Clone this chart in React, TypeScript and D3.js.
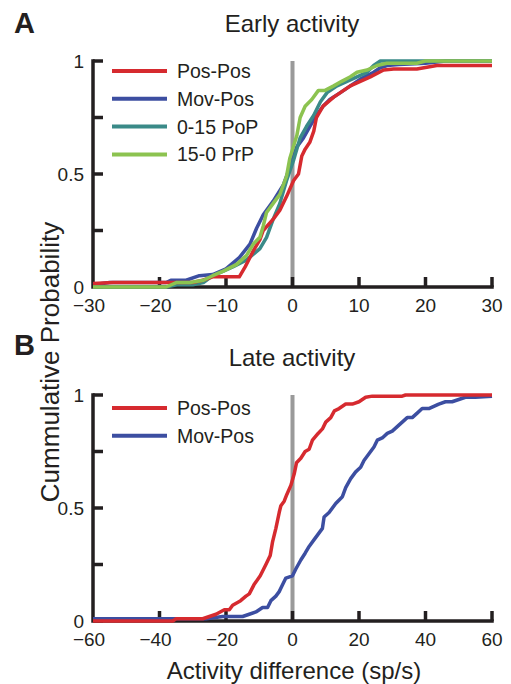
import React from "react";
import * as d3 from "d3";

// cumulative distributions, [activity difference, probability]
const earlyPosPos: [number, number][] = [
  [-30, 0.015], [-27, 0.02], [-15, 0.02], [-13.5, 0.03], [-12, 0.045], [-8, 0.045],
  [-7.1, 0.09], [-5.9, 0.16], [-4.9, 0.21], [-4.4, 0.25], [-2.9, 0.3], [-1.9, 0.34],
  [-0.9, 0.4], [0.15, 0.47], [0.9, 0.5], [1.4, 0.58], [1.9, 0.61], [2.6, 0.64],
  [3.2, 0.69], [3.6, 0.75], [4.6, 0.8], [6.2, 0.84], [7.2, 0.86], [8.7, 0.89],
  [10.2, 0.91], [11.7, 0.93], [13.7, 0.96], [15.2, 0.965], [18.7, 0.965], [21.7, 0.98], [30, 0.98],
];
const earlyMovPos: [number, number][] = [
  [-30, 0.01], [-27.5, 0.02], [-19, 0.02], [-18.3, 0.03], [-16, 0.03], [-14, 0.05],
  [-12, 0.055], [-10, 0.08], [-8, 0.13], [-6.4, 0.19], [-5.4, 0.26], [-4.4, 0.32],
  [-2.9, 0.38], [-1.4, 0.45], [-0.4, 0.53], [0.65, 0.62], [1.65, 0.66], [2.6, 0.71],
  [3.6, 0.76], [4.6, 0.8], [5.6, 0.83], [7.2, 0.86], [8.7, 0.89], [10.2, 0.92],
  [12.2, 0.95], [13.2, 0.97], [14.2, 0.98], [16, 0.985], [20, 0.99], [23, 1.0], [30, 1.0],
];
const earlyPoP: [number, number][] = [
  [-30, 0], [-19, 0], [-17.4, 0.01], [-15, 0.01], [-13.4, 0.02], [-12, 0.05],
  [-10.4, 0.07], [-8.9, 0.09], [-6.9, 0.12], [-4.9, 0.17], [-3.9, 0.22], [-2.9, 0.3],
  [-1.9, 0.37], [-0.9, 0.47], [0.15, 0.56], [1.15, 0.66], [2.1, 0.71], [3.2, 0.76],
  [4.2, 0.82], [5.2, 0.86], [6.7, 0.89], [8.2, 0.91], [9.7, 0.93], [11.2, 0.95],
  [12.2, 0.98], [13.2, 1.0], [30, 1.0],
];
const earlyPrP: [number, number][] = [
  [-30, 0], [-19, 0], [-17.4, 0.02], [-15.4, 0.02], [-13.4, 0.03], [-12, 0.05],
  [-10.4, 0.07], [-8.4, 0.1], [-6.9, 0.14], [-5.9, 0.19], [-4.9, 0.22], [-4.4, 0.27],
  [-3.9, 0.33], [-2.9, 0.37], [-1.9, 0.41], [-0.9, 0.49], [-0.4, 0.57], [0.65, 0.67],
  [1.15, 0.75], [1.9, 0.8], [2.9, 0.83], [3.9, 0.87], [4.9, 0.87], [6.2, 0.89],
  [7.4, 0.91], [8.7, 0.93], [9.7, 0.95], [11.2, 0.96], [12.7, 0.98], [14.2, 0.99],
  [18.7, 0.99], [20, 1.0], [30, 1.0],
];

const latePosPos: [number, number][] = [
  [-60, 0], [-36, 0], [-35, 0.01], [-27, 0.01], [-25, 0.02], [-23, 0.03], [-20.5, 0.05],
  [-19, 0.05], [-18, 0.07], [-15.6, 0.09], [-14, 0.11], [-13, 0.12], [-11.6, 0.16],
  [-9.7, 0.2], [-8, 0.25], [-6.7, 0.29], [-6, 0.35], [-5, 0.41], [-4, 0.48], [-3.5, 0.51],
  [-2.5, 0.53], [-1.7, 0.56], [-0.5, 0.6], [0.5, 0.65], [1.2, 0.7], [2.5, 0.72],
  [3.8, 0.75], [5, 0.76], [6, 0.8], [7.7, 0.83], [9, 0.85], [10, 0.88], [11.5, 0.9],
  [12.6, 0.93], [14, 0.94], [16, 0.96], [18, 0.96], [20, 0.97], [22, 0.99], [24, 0.995],
  [33, 0.995], [34, 1.0], [60, 1.0],
];
const lateMovPos: [number, number][] = [
  [-60, 0.01], [-38, 0.01], [-26, 0.01], [-21, 0.02], [-15, 0.02], [-13, 0.03], [-11, 0.04],
  [-9, 0.06], [-7.5, 0.06], [-6.5, 0.09], [-5, 0.11], [-4, 0.13], [-3, 0.16], [-2, 0.19],
  [0, 0.2], [1, 0.23], [2.5, 0.27], [3.8, 0.3], [5, 0.33], [6.5, 0.36], [8, 0.39], [9, 0.41],
  [9.5, 0.46], [11, 0.48], [13, 0.52], [15, 0.55], [16, 0.59], [17.5, 0.63], [19, 0.66],
  [20.5, 0.68], [21.5, 0.71], [23, 0.74], [24.5, 0.77], [25.5, 0.8], [27, 0.81], [28.5, 0.83],
  [30, 0.84], [31.5, 0.86], [33, 0.88], [34.5, 0.9], [36, 0.9], [37.5, 0.92], [39, 0.94],
  [41, 0.94], [42.5, 0.95], [44, 0.96], [46, 0.97], [48, 0.97], [50, 0.98], [52, 0.99],
  [55, 0.99], [60, 0.995],
];

const earlyXTicks = [-30, -20, -10, 0, 10, 20, 30];
const lateXTicks = [-60, -40, -20, 0, 20, 40, 60];
const yTicks = [0, 0.25, 0.5, 0.75, 1];
const yLabels = ["0", "0.5", "1"];

const RED = "#d62a2f";
const BLUE = "#3c4ea1";
const TEAL = "#3a8a88";
const GREEN = "#8cc350";
const INK = "#231f20";
const FONT = "'Liberation Sans', Arial, sans-serif";

type Series = { name: string; color: string; data: [number, number][] };

const earlySeries: Series[] = [
  { name: "Mov-Pos", color: BLUE, data: earlyMovPos },
  { name: "0-15 PoP", color: TEAL, data: earlyPoP },
  { name: "Pos-Pos", color: RED, data: earlyPosPos },
  { name: "15-0 PrP", color: GREEN, data: earlyPrP },
];
const earlyLegend = ["Pos-Pos", "Mov-Pos", "0-15 PoP", "15-0 PrP"];
const lateSeries: Series[] = [
  { name: "Mov-Pos", color: BLUE, data: lateMovPos },
  { name: "Pos-Pos", color: RED, data: latePosPos },
];
const lateLegend = ["Pos-Pos", "Mov-Pos"];

const Panel = ({ top, domain, ticks, series, legend, legendY }) => {
  const x = d3.scaleLinear().domain(domain).range([93, 492]);
  const y = d3.scaleLinear().domain([0, 1]).range([top + 226, top]);
  const line = d3
    .line<[number, number]>()
    .x(d => x(d[0]))
    .y(d => y(d[1]));
  const colorOf = name => series.find(s => s.name === name).color;
  const y0 = y(0);

  return (
    <g>
      {/* zero line */}
      <line x1={x(0)} x2={x(0)} y1={y(1)} y2={y0} stroke="#9a9a9a" strokeWidth={4} />

      {/* axes */}
      <path
        d={`M${x(domain[0])},${y(1)}V${y0}H${x(domain[1])}`}
        fill="none"
        stroke={INK}
        strokeWidth={3.5}
        strokeLinecap="square"
      />
      {yTicks.map(t => (
        <line key={"y" + t} x1={x(domain[0])} x2={x(domain[0]) + 10} y1={y(t)} y2={y(t)} stroke={INK} strokeWidth={3.5} />
      ))}
      {ticks.slice(1).map(t => (
        <line key={"x" + t} x1={x(t)} x2={x(t)} y1={y0} y2={y0 - 10} stroke={INK} strokeWidth={3.5} />
      ))}
      {yLabels.map(l => (
        <text
          key={"yl" + l}
          x={84}
          y={y(+l) + 6.5}
          textAnchor="end"
          fontSize={19}
          fill={INK}
          fontFamily={FONT}
        >
          {l}
        </text>
      ))}
      {ticks.map(t => (
        <text key={"xl" + t} x={x(t) - (t < 0 ? 4 : 0)} y={y0 + 25} textAnchor="middle" fontSize={19} fill={INK} fontFamily={FONT}>
          {t < 0 ? "\u2212" + Math.abs(t) : t}
        </text>
      ))}

      {/* curves */}
      {series.map(s => (
        <path key={s.name} d={line(s.data)} fill="none" stroke={s.color} strokeWidth={3.5} strokeLinejoin="round" />
      ))}

      {/* legend */}
      {legend.map((name, i) => (
        <g key={"lg" + name} transform={`translate(0,${legendY + i * 27.8})`}>
          <line x1={112} x2={167} y1={0} y2={0} stroke={colorOf(name)} strokeWidth={4} />
          <text x={177} y={7} fontSize={19.5} fill={INK} fontFamily={FONT}>
            {name}
          </text>
        </g>
      ))}
    </g>
  );
};

const App = () => (
  <svg width={511} height={684} style={{ position: "absolute", left: 0, top: 0, background: "#fff" }}>
    <text x={14} y={33} fontSize={29} fontWeight="bold" fill={INK} fontFamily={FONT}>A</text>
    <text x={14} y={355} fontSize={29} fontWeight="bold" fill={INK} fontFamily={FONT}>B</text>
    <text x={292} y={32} textAnchor="middle" fontSize={24} fill={INK} fontFamily={FONT}>Early activity</text>
    <text x={292} y={366} textAnchor="middle" fontSize={24} fill={INK} fontFamily={FONT}>Late activity</text>

    <Panel top={61} domain={[-30, 30]} ticks={earlyXTicks} series={earlySeries} legend={earlyLegend} legendY={71} />
    <Panel top={395} domain={[-60, 60]} ticks={lateXTicks} series={lateSeries} legend={lateLegend} legendY={408} />

    <text
      transform="translate(59,362) rotate(-90)"
      textAnchor="middle"
      fontSize={26}
      fill={INK}
      fontFamily={FONT}
    >
      Cummulative Probability
    </text>
    <text x={294} y={679} textAnchor="middle" fontSize={24} fill={INK} fontFamily={FONT}>
      Activity difference (sp/s)
    </text>
  </svg>
);

export default App;
